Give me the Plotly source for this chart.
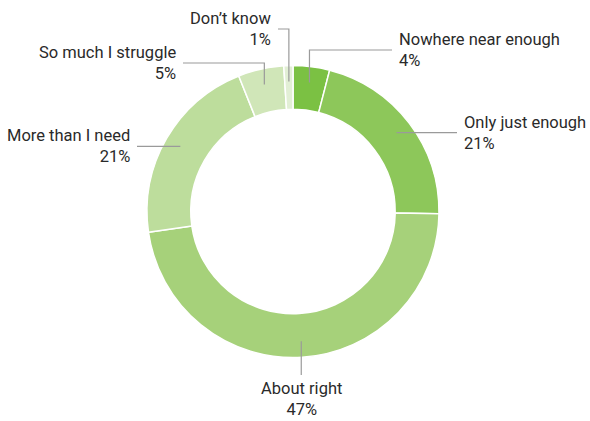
import math
import plotly.graph_objects as go

# Survey answers, clockwise from 12 o'clock
labels = ["Nowhere near enough", "Only just enough", "About right",
          "More than I need", "So much I struggle", "Don\u2019t know"]
values = [4, 21, 47, 21, 5, 1]
colors = ["#7bc143", "#8dc75a", "#a6d17a", "#bddd9c", "#d0e6b8", "#e2efd5"]

W, H = 590, 421
CX, CY, R_OUT = 293, 211.5, 146
HOLE = 0.70

# Leader-line routing per label: (mode, turn coordinate, end coordinate, text side)
routes = {
    "Nowhere near enough": ("v", 50, 392, "left"),
    "Only just enough": ("h", None, 457, "left"),
    "About right": ("down", None, 375, "center"),
    "More than I need": ("h", None, 137, "right"),
    "So much I struggle": ("v", 63, 183, "right"),
    "Don\u2019t know": ("v", 29, 278, "right"),
}


def px(x, y):
    return x / W, 1 - y / H


fig = go.Figure(go.Pie(
    labels=labels, values=values, sort=False, direction="clockwise", rotation=0,
    hole=HOLE, marker=dict(colors=colors, line=dict(color="white", width=1.5)),
    textinfo="none", hoverinfo="label+percent", showlegend=False,
    domain=dict(x=[(CX - R_OUT) / W, (CX + R_OUT) / W],
                y=[1 - (CY + R_OUT) / H, 1 - (CY - R_OUT) / H]),
))

total = sum(values)
cum = 0
shapes, annotations = [], []
r_anchor = R_OUT * (1 + HOLE) / 2 + 6
font = dict(family="Roboto, sans-serif", size=16.5, color="#2a2a2a")
for lab, v in zip(labels, values):
    theta = (cum + v / 2) / total * 2 * math.pi
    cum += v
    ax = CX + r_anchor * math.sin(theta)
    ay = CY - r_anchor * math.cos(theta)
    mode, turn, end, side = routes[lab]
    if mode == "v":
        pts = [(ax, ay), (ax, turn), (end, turn)]
        tx, ty = end, turn
    elif mode == "h":
        pts = [(ax, ay), (end, ay)]
        tx, ty = end, ay
    else:
        pts = [(ax, ay), (ax, end)]
        tx, ty = ax, end
    path = "M " + " L ".join(f"{px(x, y)[0]:.5f},{px(x, y)[1]:.5f}" for x, y in pts)
    shapes.append(dict(type="path", path=path, xref="paper", yref="paper",
                       line=dict(color="#9a9a9a", width=1.2)))
    text = f"{lab}<br>{v}%"
    if side == "center":
        xa, ya = px(tx, ty + 2)
        annotations.append(dict(x=xa, y=ya, xref="paper", yref="paper", text=text,
                                showarrow=False, xanchor="center", yanchor="top",
                                align="center", font=font))
    else:
        off = 5 if side == "left" else -5
        xa, ya = px(tx + off, ty)
        annotations.append(dict(x=xa, y=ya, xref="paper", yref="paper", text=text,
                                showarrow=False, xanchor=side, yanchor="middle",
                                align=side, font=font))

fig.update_layout(width=W, height=H, margin=dict(l=0, r=0, t=0, b=0),
                  paper_bgcolor="white", plot_bgcolor="white",
                  shapes=shapes, annotations=annotations)
fig.write_html("out.html")
